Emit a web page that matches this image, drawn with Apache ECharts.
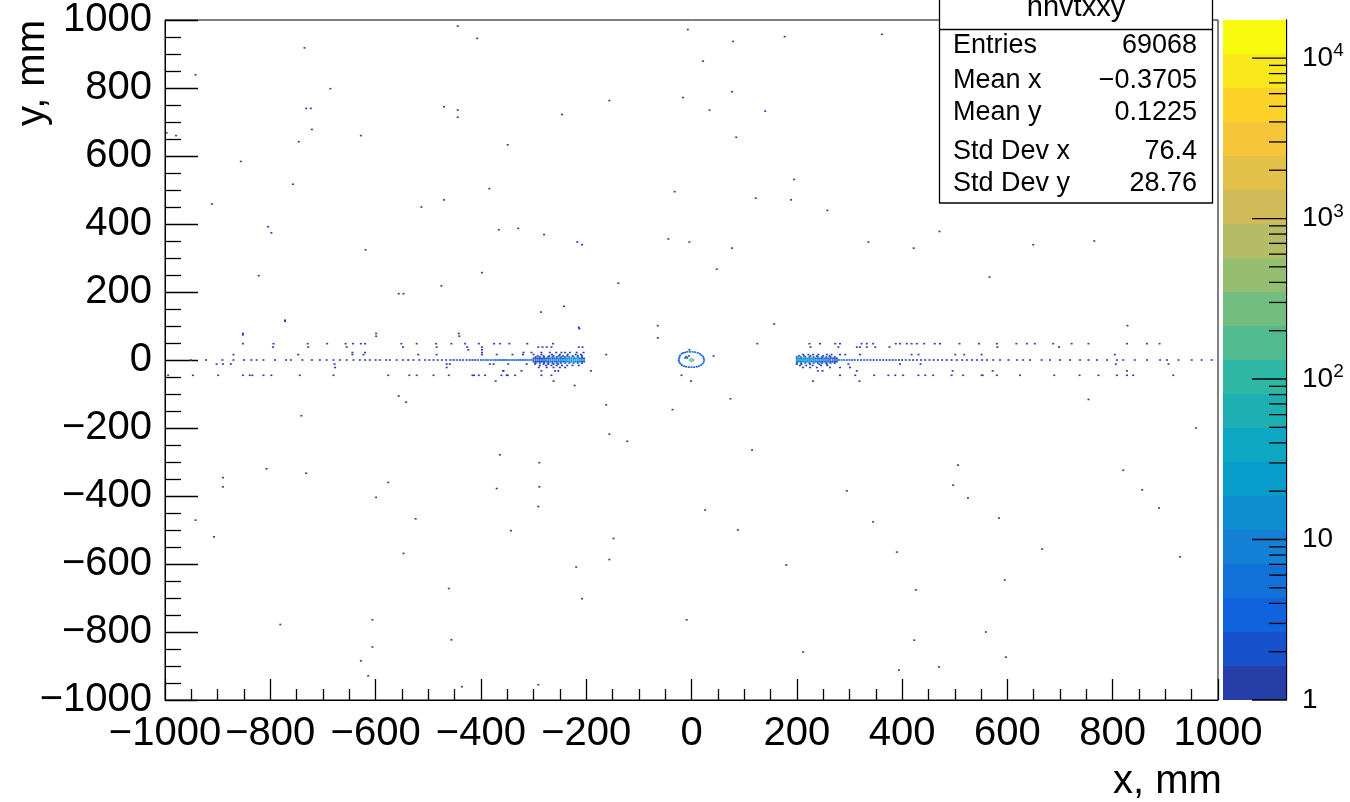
<!DOCTYPE html>
<html><head><meta charset="utf-8">
<script src="https://cdn.jsdelivr.net/npm/echarts@6/dist/echarts.min.js"></script>
<style>html,body{margin:0;padding:0;background:#fff}#c{width:1350px;height:802px}</style>
</head><body><div id="c"></div>
<script>
// ================= DATA (bin centres in mm, contents) =================
// isolated single-entry bins far from the beam line
const haloX = [-444,-407,-7,-735,-942,-686,-16,-156,-732,-723,-470,-444,-444,-246,-997,-979,-721,-628,-746,-349,-856,-757,-384,-32,-911,-470,-513,-804,-798,-366,-329,-280,-217,-208,-44,-4,-619,-822,-398,-139,-475,-556,-547,-242,-286,-772,-213,-64,-64,-852,-599,-441,
 79,177,362,22,77,34,140,85,195,122,189,258,471,77,336,422,649,765,48,566,157,828,
 -222,-556,-542,-162,-36,-741,-156,-122,-364,-289,-807,-732,-890,-890,-576,-370,-289,-599,-291,-942,-524,-343,-907,-148,-547,-156,-219,-461,-208,-606,-9,-781,-456,-606,-628,-614,-436,-291,
 115,958,820,506,497,295,856,345,525,26,88,584,888,390,666,928,180,426,595,559,423,212,597,394,470,-772,754,-214,74];
const haloY = [982,946,972,918,839,798,772,763,740,740,745,735,714,722,668,660,678,660,642,633,584,517,504,495,459,471,450,392,374,383,387,369,347,339,356,347,324,248,257,226,218,195,195,158,141,114,92,101,65,74,70,70,
 937,951,958,879,789,735,732,655,531,476,471,440,378,329,347,329,339,350,267,244,106,101,
 -75,-106,-124,-132,-146,-164,-218,-239,-279,-302,-320,-333,-346,-373,-360,-378,-373,-404,-431,-471,-467,-502,-520,-525,-569,-587,-609,-672,-702,-764,-764,-778,-823,-844,-885,-929,-961,-955,
 -265,-200,-324,-309,-368,-385,-382,-476,-406,-441,-500,-465,-435,-565,-556,-579,-603,-676,-647,-800,-824,-859,-874,-912,-903,117,-116,96,-114];

// single-entry bins in rows close to the beam line (one array of x per row)
const rowP78 = [-852,-599,-442];
const rowP48 = [-852,-794,-729,-692,-657,-643,-628,-620,-551,-522,-485,-456,-430,-404,-375,-364,-346,-312,-263,
                125,224,244,273,282,323,333,345,388,396,409,418,428,442,462,472,509,546,580,617,637,652,687,722,754,827,865,889];
const rowP38 = [-795,-728,-655,-548,-484,-426,-398,-291,-283,-275,-266,-214,-207, 226,279,314,320,333,349,376,581,698];
const rowP30 = [-424,-398,-4];
const rowP22 = [-644,-620,-398,-319,-304,-285,-269,-257,-247,-240,-231,-218,-205];
const rowP16 = [-870,-747,-644,-623,-519,-484,-398,-370,-340,-320,-300,-285,-265,-250,-235,-220,-210,-162,
                212,222,231,241,257,266,282,292,320,418,431,501,518,551,804];
const rowP12 = [-292,-281,-270,-262,-252,-244,-236,-226,-216,-208, 204,214,226,238,250,262];
const rowM12 = [-902,-890,-875,-678,-465,-459,-383,-376,-348,-313,-297,-281,-272,-262,-253, 200,209,225,243,257,298,396,435,806,906];
const rowM16 = [-288,-276,-266,-256,-246,-236,-226,-214, 206,218,230,246,258];
const rowM22 = [-677,-465,-290,-275,-262,-250,-240, 212,225,238,263,282,301];
const rowM32 = [-357,-323,-285,-259,-253,-191,-358, 240,249,314,496,572,827];
const rowM45 = [-994,-947,-899,-852,-839,-834,-813,-798,-744,-680,-576,-536,-522,-490,-461,-416,-413,-404,-392,-361,-351,-349,-335,-285,-266,-19,
                282,311,347,374,387,402,431,444,459,494,516,551,553,580,624,689,737,773,808,827,839,915];
const rowM62 = [-372,-262,-1,231,319];
const rowYs  = [78,48,38,30,22,16,12,-12,-16,-22,-32,-45,-62];

// beam line y = 0, left arm
const leftAxisX = [-951,-922,-891,-870,-850,-836,-826,-813,-791,-770,-761,-739,-721,-706,-693,-680,-668,-655,-642,-630,-620,-611,-600,-592,-580,-573,-560,-548,-538,-528,-517,-506,-498,-490,-482,
  -474,-466,-458,-452,-446,-440,-434,-427,-421,-416,-411,-406,-400,
  -395,-390,-386,-381,-376,-372,-368,-364,-360,-356,-352,-348,-344,-340,-336,-332,-328,-324,-320,-316,-312,-308,-304,-300,
  -296,-292,-288,-284,-280,-276,-272,-268,-264,-260,-256,
  -252,-248,-244,-240,-236,-232,-228,-224,-220,-216,-212,-208,-204];
const leftAxisN = [1,1,1,1,1,1,1,1,1,1,1,1,1,1,1,1,1,1,1,1,1,1,1,1,1,1,1,1,1,1,1,1,1,1,1,
  1,2,1,1,2,1,2,1,2,1,2,2,2,
  2,2,3,2,3,2,3,3,3,2,3,3,4,3,4,3,4,4,5,4,5,4,5,5,
  4,5,4,5,6,6,7,8,8,9,10,
  10,12,15,18,22,26,30,36,40,38,32,24,14];
// beam line y = 0, right arm
const rightAxisX = [200,203,206,209,212,215,218,221,224,227,231,235,239,243,247,251,255,259,263,268,272,276,280,285,290,295,
  300,305,310,316,322,328,334,340,346,352,358,364,370,376,
  382,388,394,400,407,414,421,428,436,444,452,460,468,476,
  485,494,504,514,523,533,542,552,561,573,586,602,618,630,643,665,681,700,719,738,754,770,789,808,820,842,865,890,903,925,950,969,988];
const rightAxisN = [12,25,38,45,42,38,34,30,26,22,18,15,12,10,9,8,7,6,5,5,4,4,3,3,3,3,
  3,3,2,3,2,2,3,2,2,2,2,2,2,2,
  1,2,1,1,2,1,1,2,1,1,1,1,1,1,
  1,1,1,1,1,1,1,1,1,1,1,1,1,1,1,1,1,1,1,1,1,1,1,1,1,1,1,1,1,1,1,1,1];
// rows just above / below the beam line inside the two clusters
const leftBlobX = [-300,-296,-292,-288,-284,-280,-276,-272,-268,-264,-260,-256,-252,-248,-244,-240,-236,-232,-228,-224,-220,-216,-212,-208,-204];
const leftBlobUpN   = [1,2,1,2,2,3,2,3,3,3,4,4,5,6,7,8,10,12,14,12,10,8,6,4,2];
const leftBlobDownN = [1,1,2,1,2,2,3,2,3,3,3,4,4,5,6,7,8,10,11,10,8,6,5,3,2];
const leftEdgeX = [-296,-288,-280,-272,-264,-256,-248,-240,-232,-224,-216,-208];
const leftEdgeUpN   = [1,1,2,1,2,2,3,3,4,4,3,2];
const leftEdgeDownN = [1,2,1,1,2,2,2,3,3,3,2,1];
const rightBlobX = [200,204,208,212,216,220,224,228,232,236,240,244,248,252,256,260,264,268,272,276];
const rightBlobUpN   = [5,10,14,16,14,12,10,9,8,7,6,5,4,4,3,3,2,2,2,1];
const rightBlobDownN = [4,8,12,14,12,10,9,8,7,6,5,4,4,3,3,2,2,2,1,1];
const rightEdgeX = [200,208,216,224,232,240,248,256,264,272];
const rightEdgeUpN   = [3,5,5,4,4,3,2,2,1,1];
const rightEdgeDownN = [2,4,4,3,3,3,2,1,1,1];
// target: ring round the centre and the very full centre bins
const ringX = [24,23,22,19,16,12,7,2,-3,-8,-12,-16,-19,-22,-23,-24,-24,-23,-21,-18,-14,-10,-5,0,5,10,14,18,21,23,-10,-8,-12,-5,42];
const ringY = [0,5,10,14,18,21,23,24,24,24,22,21,18,13,8,3,-2,-7,-11,-15,-18,-20,-21,-21,-21,-20,-18,-15,-11,-6,10,6,6,12,12];
const ringN = [3,3,4,4,3,4,4,5,5,4,4,3,3,3,3,3,3,3,3,3,3,3,4,4,3,3,3,3,3,3,2,2,2,2,1];
const coreX = [0,-3,3,0,0];
const coreY = [0,0,0,3,-3];
const coreN = [17000,60,20,12,8];

// axis / colour-scale values
const Z_MAX = 17260;                 // top of the colour scale
const zMajor = [1,10,100,1000,10000];
const zTickLabels = ['1','10','10{sup|2}','10{sup|3}','10{sup|4}'];

// ================= STYLE =================
const BIN_W = 3, BIN_H = 4, NCONT = 20;
const ZL = Math.log10(Z_MAX);
const st=[0,.125,.25,.375,.5,.625,.75,.875,1];
const rr=[0.2082,0.0592,0.0780,0.0232,0.1802,0.5301,0.8186,0.9956,0.9764];
const gg=[0.1664,0.3599,0.5041,0.6419,0.7178,0.7492,0.7328,0.7862,0.9832];
const bb=[0.5293,0.8684,0.8385,0.7914,0.6425,0.4662,0.3499,0.1968,0.0539];
function bird(p){let g=1;while(g<8&&p>st[g])g++;const t=(p-st[g-1])/(st[g]-st[g-1]);
 const f=a=>Math.round(255*(a[g-1]+t*(a[g]-a[g-1])));return 'rgb('+f(rr)+','+f(gg)+','+f(bb)+')';}
const bandColors=[];for(let i=0;i<NCONT;i++){const k=Math.floor((i+0.99)*255/NCONT);bandColors.push(bird(Math.min(k,254)/254));}
function colorOf(n){let b=Math.floor(Math.log10(n)/ZL*NCONT);b=Math.max(0,Math.min(NCONT-1,b));return bandColors[b];}

// ================= assemble bins =================
const bins=[];
haloX.forEach((x,i)=>bins.push([x,haloY[i],1]));
[rowP78,rowP48,rowP38,rowP30,rowP22,rowP16,rowP12,rowM12,rowM16,rowM22,rowM32,rowM45,rowM62].forEach((row,r)=>row.forEach(x=>bins.push([x,rowYs[r],1])));
leftAxisX.forEach((x,i)=>bins.push([x,0,leftAxisN[i]]));
rightAxisX.forEach((x,i)=>bins.push([x,0,rightAxisN[i]]));
leftBlobX.forEach((x,i)=>{bins.push([x,5,leftBlobUpN[i]]);bins.push([x,-5,leftBlobDownN[i]]);});
leftEdgeX.forEach((x,i)=>{bins.push([x,9,leftEdgeUpN[i]]);bins.push([x,-9,leftEdgeDownN[i]]);});
rightBlobX.forEach((x,i)=>{bins.push([x,5,rightBlobUpN[i]]);bins.push([x,-5,rightBlobDownN[i]]);});
rightEdgeX.forEach((x,i)=>{bins.push([x,9,rightEdgeUpN[i]]);bins.push([x,-9,rightEdgeDownN[i]]);});
ringX.forEach((x,i)=>bins.push([x,ringY[i],ringN[i]]));
coreX.forEach((x,i)=>bins.push([x,coreY[i],coreN[i]]));
bins.sort((a,b)=>a[2]-b[2]);

const FONT='"Liberation Sans", Arial, Helvetica, sans-serif';
const minus=v=>v<0?'\u2212'+(-v):String(v);
const majorZ=zMajor.map(v=>Math.log10(v));
const minorZ=[];zMajor.forEach(d=>{for(let k=2;k<=9;k++){const v=Math.log10(d*k);if(v<ZL)minorZ.push(v);}});
const zTicks=majorZ.map(v=>[v,34]).concat(minorZ.map(v=>[v,17]));

const chart=echarts.init(document.getElementById('c'),null,{renderer:'canvas'});
chart.setOption({
 animation:false,backgroundColor:'#fff',
 grid:[{left:165,top:20,width:1053,height:680,show:true,borderColor:'#000',borderWidth:1,backgroundColor:'transparent'},
       {left:1223,top:20,width:63,height:680,show:false}],
 xAxis:[{gridIndex:0,type:'value',min:-1000,max:1000,interval:200,
   axisLine:{onZero:false,lineStyle:{color:'#000',width:1}},
   axisTick:{inside:true,length:21,lineStyle:{color:'#000',width:1.3}},
   minorTick:{show:true,splitNumber:4,length:11,lineStyle:{color:'#000',width:1.3}},
   splitLine:{show:false},
   axisLabel:{fontSize:40,color:'#000',fontFamily:FONT,margin:14,formatter:minus,showMinLabel:true,showMaxLabel:true,hideOverlap:false}},
  {gridIndex:1,type:'value',min:0,max:1,show:false}],
 yAxis:[{gridIndex:0,type:'value',min:-1000,max:1000,interval:200,
   axisLine:{onZero:false,lineStyle:{color:'#000',width:1}},
   axisTick:{inside:true,length:33,lineStyle:{color:'#000',width:1.3}},
   minorTick:{show:true,splitNumber:4,length:16,lineStyle:{color:'#000',width:1.3}},
   splitLine:{show:false},
   axisLabel:{fontSize:40,color:'#000',fontFamily:FONT,margin:13,formatter:minus,showMinLabel:true,showMaxLabel:true}},
  {gridIndex:1,type:'value',min:0,max:ZL,position:'right',
   axisLine:{show:true,onZero:false,lineStyle:{color:'#000',width:1.3}},
   axisTick:{show:false},splitLine:{show:false},
   axisLabel:{customValues:majorZ,margin:16,fontSize:28,color:'#000',fontFamily:FONT,
     formatter:(v)=>zTickLabels[Math.round(v)],
     rich:{sup:{fontSize:19,fontFamily:FONT,color:'#000',verticalAlign:'top',padding:[0,0,14,0]}}}}],
 series:[
  {type:'custom',xAxisIndex:0,yAxisIndex:0,data:bins,clip:true,
   renderItem:(params,api)=>{const p=api.coord([api.value(0),api.value(1)]);const s=api.size([BIN_W,BIN_H]);
     const w=Math.max(s[0],2.0),h=Math.max(s[1],1.6);
     return {type:'rect',shape:{x:p[0]-w/2,y:p[1]-h/2,width:w,height:h},style:{fill:colorOf(api.value(2))}};}},
  {type:'custom',xAxisIndex:1,yAxisIndex:1,data:bandColors.map((c,i)=>[i]),
   renderItem:(params,api)=>{const i=api.value(0);const a=api.coord([0,i*ZL/NCONT]);const b=api.coord([1,(i+1)*ZL/NCONT]);
     return {type:'rect',shape:{x:a[0],y:b[1],width:b[0]-a[0],height:a[1]-b[1]},style:{fill:bandColors[i]}};}},
  {type:'custom',xAxisIndex:1,yAxisIndex:1,data:zTicks,z:5,
   renderItem:(params,api)=>{const p=api.coord([1,api.value(0)]);const len=api.value(1);
     return {type:'line',shape:{x1:p[0]-len,y1:p[1],x2:p[0],y2:p[1]},style:{stroke:'#000',lineWidth:1.3}};}}
 ],
 graphic:[
  {type:'text',left:1113,top:762,style:{text:'x, mm',fontSize:40,fontFamily:FONT,fill:'#000'}},
  {type:'text',x:33,y:20,rotation:Math.PI/2,style:{text:'y, mm',fontSize:40,fontFamily:FONT,fill:'#000',align:'right',verticalAlign:'middle'}},
  {type:'group',z:100,children:[
   {type:'rect',shape:{x:939.5,y:-10,width:273,height:213},style:{fill:'#fff',stroke:'#000',lineWidth:1.3}},
   {type:'line',shape:{x1:939.5,y1:29.5,x2:1212.5,y2:29.5},style:{stroke:'#000',lineWidth:1.3}},
   {type:'text',x:1076,y:8,style:{text:'hhvtxxy',fontSize:29,fontFamily:FONT,fill:'#000',align:'center',verticalAlign:'middle'}},
   {type:'text',x:953,y:46,style:{text:'Entries',fontSize:27,fontFamily:FONT,fill:'#000',verticalAlign:'middle'}},
   {type:'text',x:1197,y:46,style:{text:'69068',fontSize:27,fontFamily:FONT,fill:'#000',align:'right',verticalAlign:'middle'}},
   {type:'text',x:953,y:81,style:{text:'Mean x',fontSize:27,fontFamily:FONT,fill:'#000',verticalAlign:'middle'}},
   {type:'text',x:1197,y:81,style:{text:'\u22120.3705',fontSize:27,fontFamily:FONT,fill:'#000',align:'right',verticalAlign:'middle'}},
   {type:'text',x:953,y:113,style:{text:'Mean y',fontSize:27,fontFamily:FONT,fill:'#000',verticalAlign:'middle'}},
   {type:'text',x:1197,y:113,style:{text:'0.1225',fontSize:27,fontFamily:FONT,fill:'#000',align:'right',verticalAlign:'middle'}},
   {type:'text',x:953,y:152,style:{text:'Std Dev x',fontSize:27,fontFamily:FONT,fill:'#000',verticalAlign:'middle'}},
   {type:'text',x:1197,y:152,style:{text:'76.4',fontSize:27,fontFamily:FONT,fill:'#000',align:'right',verticalAlign:'middle'}},
   {type:'text',x:953,y:184,style:{text:'Std Dev y',fontSize:27,fontFamily:FONT,fill:'#000',verticalAlign:'middle'}},
   {type:'text',x:1197,y:184,style:{text:'28.76',fontSize:27,fontFamily:FONT,fill:'#000',align:'right',verticalAlign:'middle'}}
  ]}
 ]
});
</script></body></html>
